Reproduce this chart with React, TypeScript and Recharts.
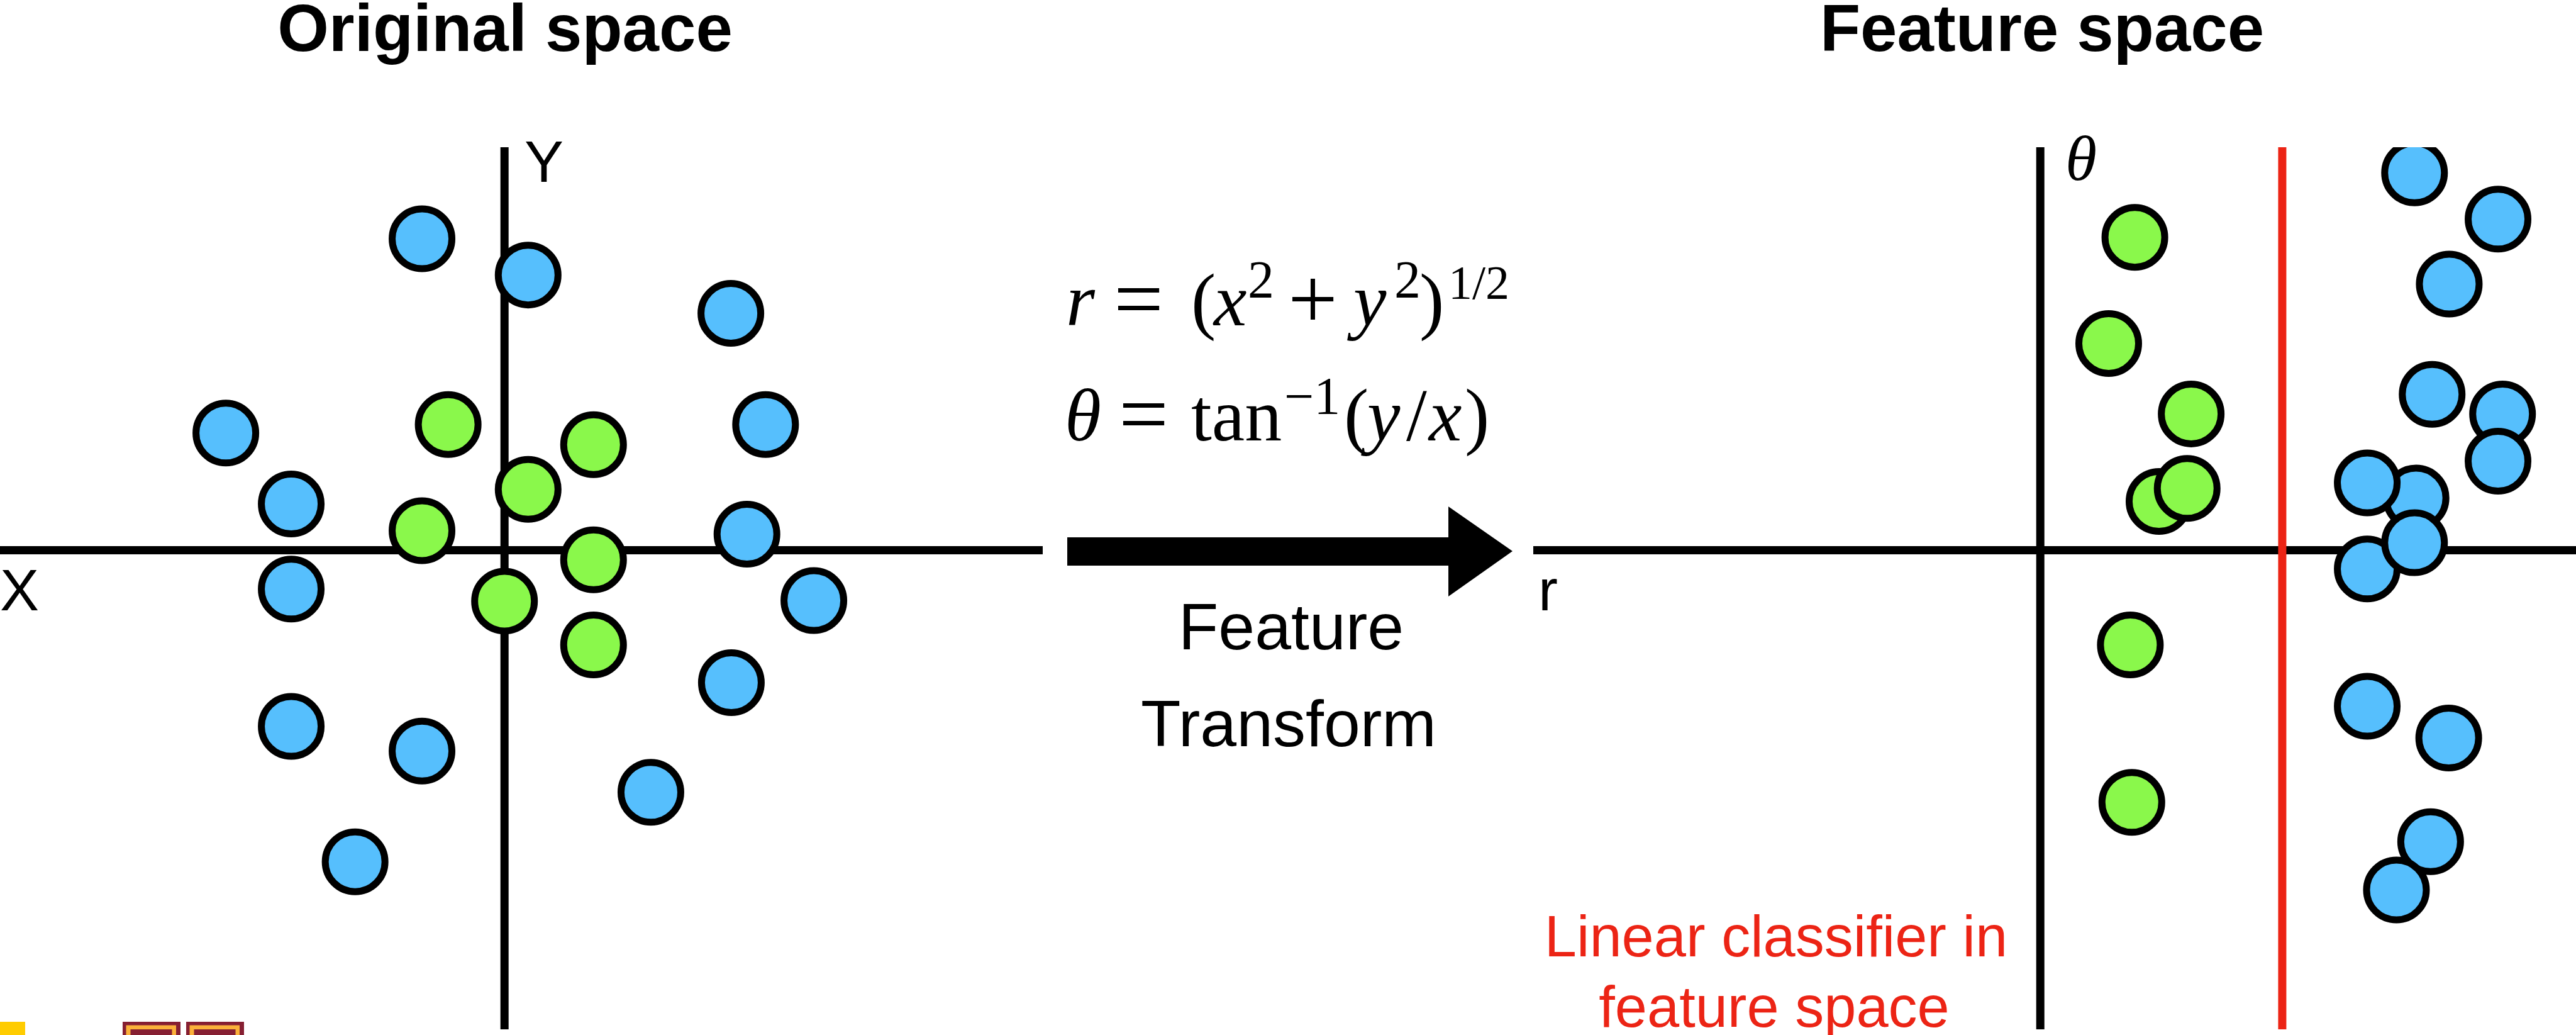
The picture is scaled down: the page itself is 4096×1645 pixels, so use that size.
import React from "react";
import { ScatterChart, Scatter, XAxis, YAxis, ReferenceLine } from "recharts";

// Original space: points in (x, y), origin where the axes cross
const origBlue = [
  { x: -1.64, y: 6.19 },
  { x: 0.47, y: 5.47 },
  { x: 4.5, y: 4.71 },
  { x: -5.54, y: 2.33 },
  { x: 5.19, y: 2.5 },
  { x: -4.24, y: 0.92 },
  { x: 4.82, y: 0.32 },
  { x: -4.24, y: -0.77 },
  { x: 6.15, y: -1.0 },
  { x: 4.51, y: -2.63 },
  { x: -4.24, y: -3.5 },
  { x: -1.64, y: -3.99 },
  { x: 2.91, y: -4.81 },
  { x: -2.97, y: -6.19 },
];
const origGreen = [
  { x: -1.12, y: 2.5 },
  { x: 1.77, y: 2.1 },
  { x: 0.47, y: 1.21 },
  { x: -1.64, y: 0.39 },
  { x: 1.77, y: -0.19 },
  { x: 0.0, y: -1.01 },
  { x: 1.77, y: -1.88 },
];

// Feature space: points in (r, theta)
const featGreen = [
  { x: 1.88, y: 6.22 },
  { x: 1.36, y: 4.11 },
  { x: 3.0, y: 2.71 },
  { x: 2.36, y: 0.97 },
  { x: 2.92, y: 1.23 },
  { x: 1.79, y: -1.88 },
  { x: 1.82, y: -5.01 },
];
const featBlue = [
  { x: 7.44, y: 7.5 },
  { x: 9.1, y: 6.58 },
  { x: 8.13, y: 5.29 },
  { x: 7.79, y: 3.1 },
  { x: 9.19, y: 2.71 },
  { x: 9.1, y: 1.77 },
  { x: 7.47, y: 1.04 },
  { x: 6.5, y: 1.34 },
  { x: 6.5, y: -0.37 },
  { x: 7.44, y: 0.15 },
  { x: 6.5, y: -3.1 },
  { x: 8.12, y: -3.73 },
  { x: 7.76, y: -5.79 },
  { x: 7.08, y: -6.75 },
];
const boundaryR = 4.81;

const origXDomain = [-10.03, 10.7];
const featXDomain = [-10.08, 10.65];
const yDomain = [-9.52, 8.01];

const BLUE = "#56BFFD";
const GREEN = "#8AF84B";
const RED = "#EC2415";
const SANS = "'Liberation Sans', Arial, Helvetica, sans-serif";
const SERIF = "'Liberation Serif', 'Times New Roman', serif";

const dot = (fill: string) => (props: any) => (
  <circle cx={props.cx} cy={props.cy} r={47.5} fill={fill} stroke="#000" strokeWidth={11} />
);

type PanelProps = {
  left: number;
  xDomain: number[];
  blue: { x: number; y: number }[];
  green: { x: number; y: number }[];
  boundary?: number;
};

function Panel({ left, xDomain, blue, green, boundary }: PanelProps) {
  const width = Math.round((xDomain[1] - xDomain[0]) * 80);
  const height = Math.round((yDomain[1] - yDomain[0]) * 80);
  return (
    <div style={{ position: "absolute", left, top: 234, width, height }}>
      <ScatterChart width={width} height={height} margin={{ top: 0, right: 0, bottom: 0, left: 0 }}>
        <XAxis type="number" dataKey="x" domain={xDomain} hide allowDataOverflow />
        <YAxis type="number" dataKey="y" domain={yDomain} hide allowDataOverflow />
        <ReferenceLine x={0} stroke="#000" strokeWidth={13} zIndex={0} />
        <ReferenceLine y={0} stroke="#000" strokeWidth={13} zIndex={0} />
        {boundary !== undefined && (
          <ReferenceLine x={boundary} stroke={RED} strokeWidth={13} zIndex={0} />
        )}
        <Scatter data={green} shape={dot(GREEN)} isAnimationActive={false} />
        <Scatter data={blue} shape={dot(BLUE)} isAnimationActive={false} />
      </ScatterChart>
    </div>
  );
}

export default function App() {
  return (
    <div
      style={{
        position: "absolute",
        left: 0,
        top: 0,
        width: 4096,
        height: 1645,
        overflow: "hidden",
        background: "#fff",
      }}
    >
      <Panel left={0} xDomain={origXDomain} blue={origBlue} green={origGreen} />
      <Panel left={2438} xDomain={featXDomain} blue={featBlue} green={featGreen} boundary={boundaryR} />

      <svg
        width={4096}
        height={1645}
        style={{ position: "absolute", left: 0, top: 0, pointerEvents: "none" }}
      >
        {/* titles */}
        <text x={803} y={81} textAnchor="middle" fontFamily={SANS} fontWeight="bold" fontSize={105}>
          Original space
        </text>
        <text x={3247} y={81} textAnchor="middle" fontFamily={SANS} fontWeight="bold" fontSize={105}>
          Feature space
        </text>

        {/* axis labels */}
        <text x={834} y={289} fontFamily={SANS} fontSize={93}>Y</text>
        <text x={0} y={970} fontFamily={SANS} fontSize={93}>X</text>
        <text x={2446} y={970} fontFamily={SANS} fontSize={93}>r</text>
        <text x={3284} y={286} fontFamily={SERIF} fontStyle="italic" fontSize={102}>θ</text>

        {/* transform formula */}
        <text fontFamily={SERIF} fontSize={118} fill="#000">
          <tspan x={1695} y={517} fontStyle="italic">r</tspan>
          <tspan x={1771} y={522} fontSize={140}>=</tspan>
          <tspan x={1894} y={517}>(</tspan>
          <tspan x={1930} y={517} fontStyle="italic">x</tspan>
          <tspan x={1984} y={473} fontSize={84}>2</tspan>
          <tspan x={2048} y={522} fontSize={140}>+</tspan>
          <tspan x={2152} y={517} fontStyle="italic">y</tspan>
          <tspan x={2217} y={473} fontSize={84}>2</tspan>
          <tspan x={2257} y={517}>)</tspan>
          <tspan x={2303} y={475} fontSize={76}>1/2</tspan>
        </text>
        <text fontFamily={SERIF} fontSize={118} fill="#000">
          <tspan x={1693} y={700} fontStyle="italic">θ</tspan>
          <tspan x={1779} y={705} fontSize={140}>=</tspan>
          <tspan x={1894} y={700}>tan</tspan>
          <tspan x={2042} y={658} fontSize={84}>−1</tspan>
          <tspan x={2137} y={700}>(</tspan>
          <tspan x={2174} y={700} fontStyle="italic">y</tspan>
          <tspan x={2236} y={700}>/</tspan>
          <tspan x={2272} y={700} fontStyle="italic">x</tspan>
          <tspan x={2329} y={700}>)</tspan>
        </text>

        {/* arrow */}
        <polygon
          points="1697,854 2303,854 2303,805 2405,876 2303,948 2303,899 1697,899"
          fill="#000"
        />
        <text x={2053} y={1032} textAnchor="middle" fontFamily={SANS} fontSize={104}>Feature</text>
        <text x={2049} y={1186} textAnchor="middle" fontFamily={SANS} fontSize={104}>Transform</text>

        {/* classifier note */}
        <text x={2824} y={1520} textAnchor="middle" fontFamily={SANS} fontSize={92} fill={RED}>
          Linear classifier in
        </text>
        <text x={2821} y={1632} textAnchor="middle" fontFamily={SANS} fontSize={92} fill={RED}>
          feature space
        </text>

        {/* cropped logo fragments */}
        <rect x={0} y={1624} width={40} height={21} fill="#FFCC00" />
        <rect x={195} y={1624} width={92} height={21} fill="#861F32" />
        <rect x={200.5} y={1629.5} width={79.5} height={16} fill="#FBB13A" />
        <rect x={207.5} y={1636} width={66} height={9} fill="#861F32" />
        <rect x={296} y={1624} width={92} height={21} fill="#861F32" />
        <rect x={301.5} y={1629.5} width={79.5} height={16} fill="#FBB13A" />
        <rect x={308.5} y={1636} width={66} height={9} fill="#861F32" />
      </svg>
    </div>
  );
}
